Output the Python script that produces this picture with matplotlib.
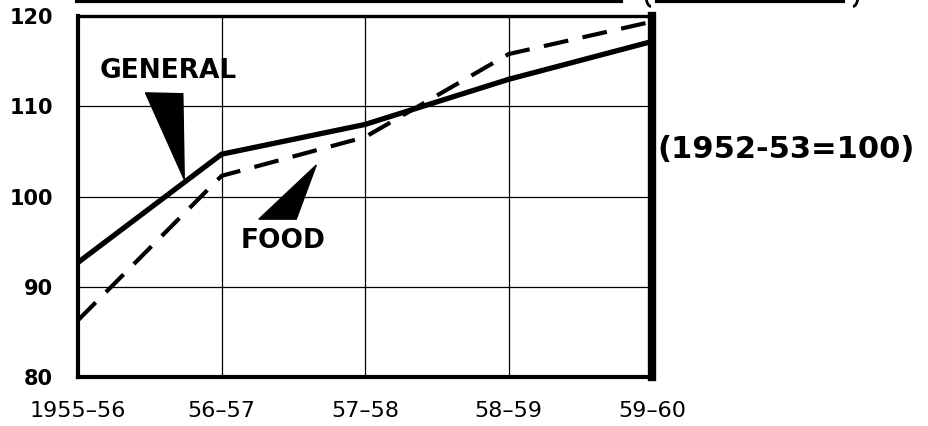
import matplotlib
matplotlib.use('Agg')
import matplotlib.pyplot as plt
from matplotlib.patches import Polygon, Arc
from matplotlib.lines import Line2D

years = ['1955–56', '56–57', '57–58', '58–59', '59–60']
general = [92.7, 104.7, 108.0, 113.0, 117.2]
food = [86.3, 102.3, 106.6, 115.8, 119.4]
yticks = [80, 90, 100, 110, 120]

fig = plt.figure(figsize=(9.29, 4.26), dpi=100)
ax = fig.add_axes([0.084, 0.115, 0.618, 0.847])

x = list(range(len(years)))
ax.plot(x, general, color='black', lw=3.8, solid_capstyle='butt', zorder=4)
ax.plot(x, food, color='black', lw=3.0, dashes=(6, 3.5), zorder=4)

ax.set_xlim(0, 4)
ax.set_ylim(80, 120)
ax.set_xticks(x)
ax.set_yticks(yticks)
ax.set_xticklabels(years, fontsize=16)
ax.set_yticklabels([str(v) for v in yticks], fontsize=15, fontweight='bold')
ax.tick_params(axis='x', length=0, pad=17)
ax.tick_params(axis='y', length=0, pad=18)
ax.grid(True, color='black', lw=0.9)

for side, w in [('left', 3.0), ('bottom', 3.0), ('top', 2.4), ('right', 6.0)]:
    ax.spines[side].set_linewidth(w)

# pointer labels
ax.text(0.15, 113.9, 'GENERAL', fontsize=19, fontweight='semibold', va='center', ha='left')
ax.add_patch(Polygon([[0.47, 111.5], [0.73, 111.4], [0.74, 101.9]], closed=True,
                     color='black', zorder=5))
ax.text(1.13, 95.1, 'FOOD', fontsize=19, fontweight='semibold', va='center', ha='left')
ax.add_patch(Polygon([[1.26, 97.5], [1.52, 97.5], [1.66, 103.5]], closed=True,
                     color='black', zorder=5))

fig.text(0.708, 0.648, '(1952-53=100)', fontsize=22, fontweight='semibold', va='center', ha='left')

# remnants of the cut-off title underline
for x0, x1 in [(77, 621), (657, 843)]:
    fig.add_artist(Line2D([x0 / 929, x1 / 929], [0.997, 0.997], color='black', lw=3))
fig.add_artist(Arc((651 / 929, 1.01), 10 / 929, 0.05, theta1=180, theta2=270,
                   transform=fig.transFigure, color='black', lw=2))
fig.add_artist(Arc((853 / 929, 1.01), 10 / 929, 0.05, theta1=270, theta2=360,
                   transform=fig.transFigure, color='black', lw=2))

fig.savefig('out.png', dpi=100)
